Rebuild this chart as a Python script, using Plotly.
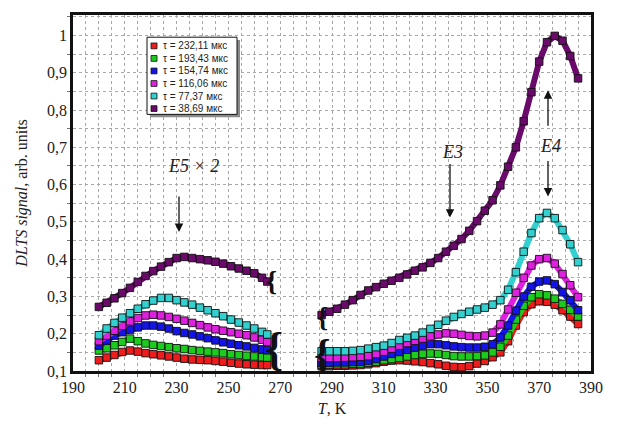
import plotly.graph_objects as go

# ---------------- data ----------------
T_low = [200, 203, 206, 209, 212, 215, 218, 221, 224, 227, 230, 233, 236, 239,
         242, 245, 248, 251, 254, 257, 260, 263, 265]
T_high = [286, 289, 292, 295, 298, 301, 304, 307, 310, 313, 316, 319, 322, 325,
          328, 331, 334, 337, 340, 343, 346, 349, 352, 355, 358, 361, 364, 367,
          370, 373, 376, 379, 382, 385]

labels = ["τ = 232,11 мкс", "τ = 193,43 мкс", "τ = 154,74 мкс",
          "τ = 116,06 мкс", "τ = 77,37 мкс", "τ = 38,69 мкс"]
colors = ["#ee1c1c", "#1ccc1c", "#1414e6", "#e020e0", "#33d0d0", "#6a0a6a"]

s232_low = [0.129, 0.136, 0.143, 0.151, 0.155, 0.152, 0.148, 0.145, 0.142, 0.139, 0.136, 0.133,
            0.131, 0.130, 0.129, 0.127, 0.125, 0.122, 0.120, 0.118, 0.117, 0.116, 0.116]
s193_low = [0.155, 0.161, 0.169, 0.178, 0.187, 0.180, 0.174, 0.170, 0.167, 0.164, 0.161, 0.159,
            0.156, 0.154, 0.152, 0.150, 0.148, 0.145, 0.143, 0.141, 0.139, 0.137, 0.136]
s154_low = [0.168, 0.182, 0.195, 0.204, 0.211, 0.217, 0.222, 0.222, 0.219, 0.214, 0.207, 0.202,
            0.198, 0.193, 0.188, 0.182, 0.177, 0.173, 0.169, 0.166, 0.162, 0.158, 0.156]
s116_low = [0.180, 0.195, 0.208, 0.221, 0.233, 0.242, 0.249, 0.251, 0.249, 0.245, 0.240, 0.235,
            0.229, 0.223, 0.217, 0.212, 0.208, 0.204, 0.200, 0.196, 0.190, 0.184, 0.178]
s77_low = [0.196, 0.214, 0.229, 0.243, 0.255, 0.267, 0.279, 0.289, 0.296, 0.296, 0.290, 0.284,
           0.278, 0.270, 0.263, 0.255, 0.247, 0.238, 0.230, 0.222, 0.214, 0.205, 0.198]
s38_low = [0.272, 0.283, 0.295, 0.309, 0.323, 0.339, 0.355, 0.368, 0.380, 0.392, 0.403, 0.406,
           0.403, 0.400, 0.397, 0.393, 0.388, 0.381, 0.375, 0.369, 0.362, 0.350, 0.340]

s232_high = [0.113, 0.113, 0.114, 0.114, 0.115, 0.116, 0.118, 0.121, 0.125, 0.128, 0.129, 0.128,
             0.126, 0.124, 0.121, 0.118, 0.114, 0.111, 0.110, 0.113, 0.120, 0.127, 0.137, 0.150,
             0.180, 0.222, 0.258, 0.279, 0.287, 0.286, 0.278, 0.263, 0.246, 0.226]
s193_high = [0.117, 0.117, 0.118, 0.118, 0.119, 0.120, 0.122, 0.125, 0.129, 0.132, 0.135, 0.139,
             0.143, 0.146, 0.147, 0.146, 0.143, 0.140, 0.139, 0.139, 0.140, 0.142, 0.150, 0.165,
             0.195, 0.238, 0.275, 0.298, 0.306, 0.303, 0.294, 0.280, 0.264, 0.246]
s154_high = [0.122, 0.122, 0.123, 0.123, 0.124, 0.125, 0.127, 0.132, 0.139, 0.146, 0.151, 0.157,
             0.163, 0.168, 0.172, 0.172, 0.169, 0.166, 0.164, 0.163, 0.163, 0.165, 0.172, 0.190,
             0.222, 0.262, 0.300, 0.326, 0.340, 0.343, 0.333, 0.312, 0.290, 0.263]
s116_high = [0.135, 0.135, 0.135, 0.136, 0.137, 0.138, 0.140, 0.146, 0.152, 0.160, 0.168, 0.175,
             0.181, 0.187, 0.193, 0.198, 0.201, 0.200, 0.197, 0.194, 0.193, 0.195, 0.203, 0.225,
             0.265, 0.310, 0.350, 0.383, 0.400, 0.403, 0.388, 0.360, 0.330, 0.298]
s77_high = [0.153, 0.153, 0.153, 0.153, 0.154, 0.156, 0.160, 0.164, 0.168, 0.175, 0.183, 0.189,
            0.195, 0.203, 0.213, 0.224, 0.235, 0.245, 0.253, 0.259, 0.265, 0.270, 0.278, 0.290,
            0.318, 0.365, 0.420, 0.470, 0.510, 0.524, 0.510, 0.478, 0.440, 0.392]
s38_high = [0.250, 0.259, 0.267, 0.278, 0.290, 0.304, 0.316, 0.325, 0.334, 0.342, 0.350, 0.359,
            0.369, 0.378, 0.390, 0.403, 0.420, 0.436, 0.454, 0.476, 0.502, 0.530, 0.558, 0.598,
            0.648, 0.700, 0.770, 0.848, 0.930, 0.982, 0.999, 0.986, 0.945, 0.885]

low_sets = [s232_low, s193_low, s154_low, s116_low, s77_low, s38_low]
high_sets = [s232_high, s193_high, s154_high, s116_high, s77_high, s38_high]

X_RANGE = [190, 390]
Y_RANGE = [0.1, 1.055]

# ---------------- layout geometry ----------------
W, H = 626, 427
ML, MR, MT, MB = 73, 35, 12, 46
PW, PH = W - ML - MR, H - MT - MB


def pxx(x):  # pixel x -> paper
    return (x - ML) / PW


def pxy(y):  # pixel y -> paper
    return (H - MB - y) / PH


def dx(x):  # pixel x -> data
    return X_RANGE[0] + (x - ML) * (X_RANGE[1] - X_RANGE[0]) / PW


def dy(y):  # pixel y -> data
    return Y_RANGE[0] + (H - MB - y) * (Y_RANGE[1] - Y_RANGE[0]) / PH


fig = go.Figure()
for i in range(6):
    for tx, vals in ((T_low, low_sets[i]), (T_high, high_sets[i])):
        fig.add_trace(go.Scatter(
            x=tx, y=vals, mode="lines+markers", name=labels[i],
            legendgroup=labels[i], showlegend=False,
            line=dict(color=colors[i], width=6),
            marker=dict(symbol="square", size=7.5, color=colors[i],
                        line=dict(color="#111111", width=0.9)),
            hoverinfo="x+y+name"))

shapes = []
annotations = []
serif = "Liberation Serif"

# white label boxes for peak labels
for (x0, y0, x1, y1) in [(150, 150, 272, 190), (428, 137, 484, 174), (518, 130, 586, 167)]:
    shapes.append(dict(type="rect", xref="paper", yref="paper",
                       x0=pxx(x0), x1=pxx(x1), y0=pxy(y1), y1=pxy(y0),
                       fillcolor="white", line=dict(width=0), layer="between"))

annotations += [
    dict(x=dx(193), y=dy(169), xref="x", yref="y", text="<i>E5 × 2</i>", showarrow=False,
         font=dict(family=serif, size=18, color="#222")),
    dict(x=dx(452), y=dy(154), xref="x", yref="y", text="<i>E3</i>", showarrow=False,
         font=dict(family=serif, size=18, color="#222")),
    dict(x=dx(550), y=dy(148), xref="x", yref="y", text="<i>E4</i>", showarrow=False,
         font=dict(family=serif, size=18, color="#222")),
]
# arrows: (head px, tail px)
for (hx, hy, tx_, ty_) in [(179, 237, 179, 200), (450, 222, 450, 167),
                           (548, 90, 548, 127), (548, 200, 548, 163)]:
    annotations.append(dict(x=dx(hx), y=dy(hy), xref="x", yref="y", text="",
                            showarrow=True, ax=tx_ - hx, ay=ty_ - hy,
                            arrowhead=2, arrowsize=1.3, arrowwidth=1.3, arrowcolor="#111"))

# axis-break marks
for (bx, by, sz) in [(271, 287, 28), (274, 358, 46), (322, 324, 28), (322, 363, 42)]:
    annotations.append(dict(x=dx(bx), y=dy(by), xref="x", yref="y", text="<b>{</b>",
                            showarrow=False, font=dict(family=serif, size=sz, color="#111")))

# custom legend
lx0, ly0, lx1, ly1 = 147, 35, 237, 115
shapes.append(dict(type="rect", xref="paper", yref="paper",
                   x0=pxx(lx0 + 3), x1=pxx(lx1 + 3), y0=pxy(ly1 + 3), y1=pxy(ly0 + 3),
                   fillcolor="#8a8a8a", line=dict(width=0), layer="above"))
shapes.append(dict(type="rect", xref="paper", yref="paper",
                   x0=pxx(lx0), x1=pxx(lx1), y0=pxy(ly1), y1=pxy(ly0),
                   fillcolor="white", line=dict(color="#111", width=1), layer="above"))
for i in range(6):
    cy = 44 + i * 13
    shapes.append(dict(type="rect", xref="paper", yref="paper",
                       x0=pxx(151), x1=pxx(157), y0=pxy(cy + 3), y1=pxy(cy - 3),
                       fillcolor=colors[i], line=dict(color="#111", width=0.8), layer="above"))
    annotations.append(dict(x=pxx(161), y=pxy(cy), xref="paper", yref="paper",
                            xanchor="left", yanchor="middle", text=labels[i], showarrow=False,
                            font=dict(family="Liberation Sans", size=10, color="#222")))

grid = dict(showgrid=True, gridcolor="#a8a8a8", griddash="dot", gridwidth=1)

fig.update_layout(
    width=W, height=H, margin=dict(l=ML, r=MR, t=MT, b=MB),
    paper_bgcolor="white", plot_bgcolor="white",
    separators=", ",
    showlegend=False,
    shapes=shapes, annotations=annotations,
    font=dict(family=serif, size=16, color="#222"),
    xaxis=dict(range=X_RANGE, tick0=190, dtick=20, showline=True, mirror=True,
               linecolor="#111", linewidth=2.5, ticks="", zeroline=False,
               minor=dict(dtick=5, ticks="outside", ticklen=3, tickcolor="#777", **grid),
               title=dict(text="<i>T</i>, K", standoff=8,
                          font=dict(family=serif, size=16, color="#222")),
               tickfont=dict(family=serif, size=16, color="#222"), **grid),
    yaxis=dict(range=Y_RANGE, tick0=0.1, dtick=0.1, showline=True, mirror=True,
               linecolor="#111", linewidth=2.5, ticks="", zeroline=False,
               minor=dict(dtick=0.05, ticks="outside", ticklen=3, tickcolor="#777", **grid),
               title=dict(text="<i>DLTS signal</i>, arb. units", standoff=16,
                          font=dict(family=serif, size=16, color="#222")),
               tickfont=dict(family=serif, size=16, color="#222"), **grid),
)

fig.write_html("out.html")
